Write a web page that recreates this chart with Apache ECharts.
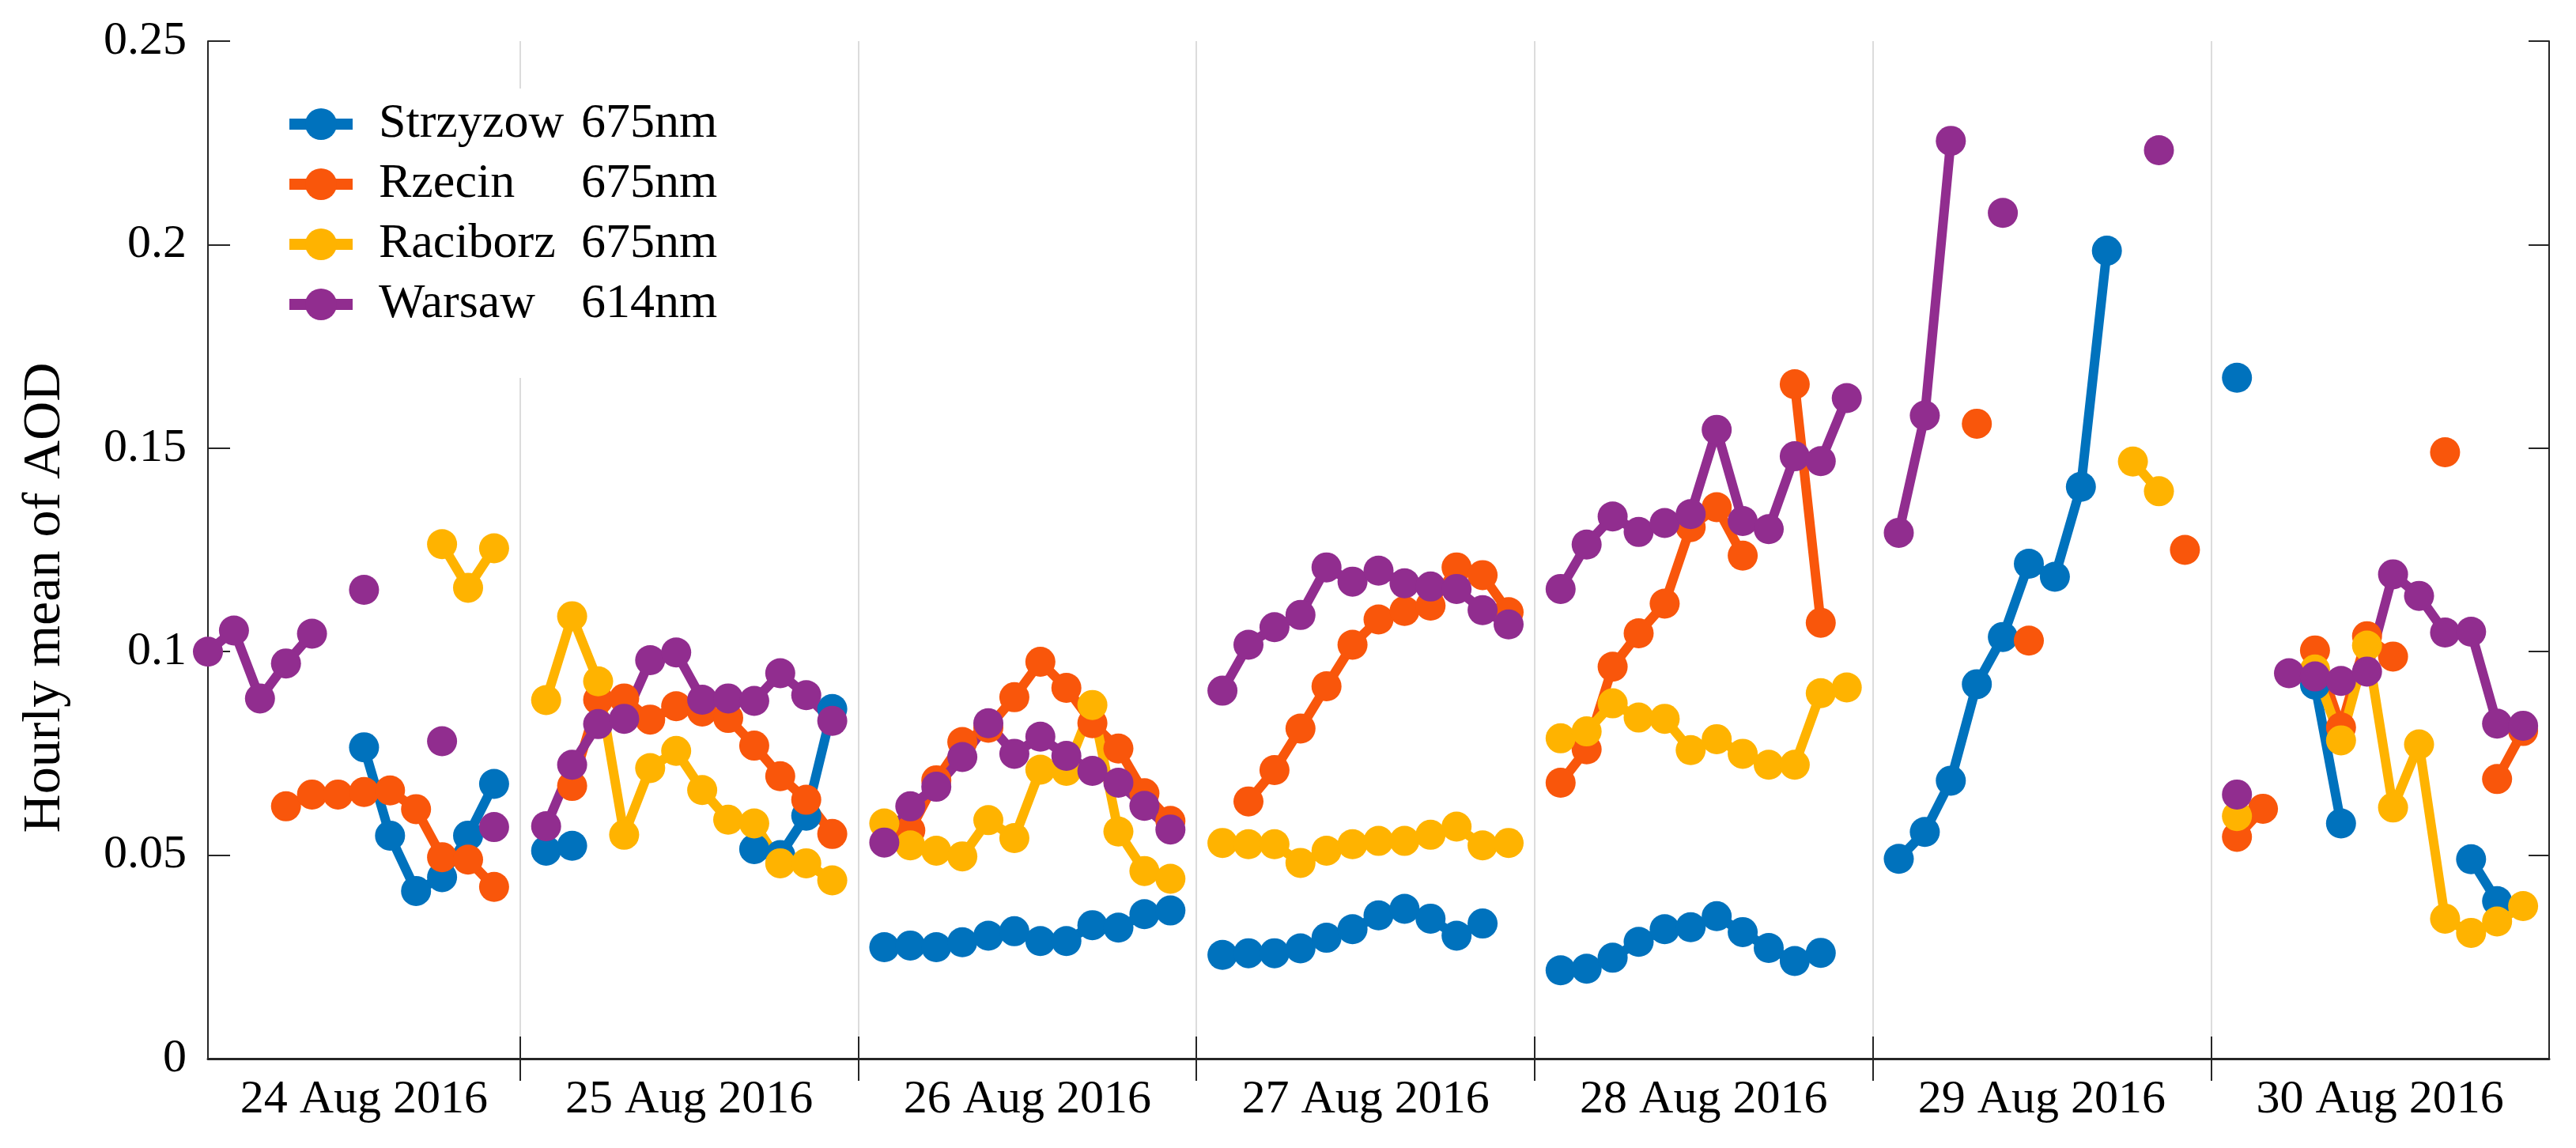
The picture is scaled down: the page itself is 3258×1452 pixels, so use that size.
<!DOCTYPE html>
<html>
<head>
    <meta charset="utf-8"/>
    <title>Hourly mean of AOD</title>
    <script src="https://cdn.jsdelivr.net/npm/echarts@6/dist/echarts.min.js"></script>
    <style type="text/css">
        html, body { margin: 0; padding: 0; background: #fff; }
        #main { width: 3258px; height: 1452px; }
    </style>
</head>
<body>
<div id="main"></div>
<script type="text/javascript">
    // one row per day (24..30 Aug), 12 hourly slots per day, null = no data
    var dayLabels = ['24 Aug 2016', '25 Aug 2016', '26 Aug 2016', '27 Aug 2016', '28 Aug 2016', '29 Aug 2016', '30 Aug 2016'];
    var labelPos = [7, 19.5, 32.5, 45.5, 58.5, 71.5, 84.5];
    var dayBounds = [13, 26, 39, 52, 65, 78];
    var yTicks = [0, 0.05, 0.1, 0.15, 0.2, 0.25];

    var stations = ['Strzyzow', 'Rzecin', 'Raciborz', 'Warsaw'];
    var wavelengths = ['675nm', '675nm', '675nm', '614nm'];
    var colors = ['#0072BD', '#F9560B', '#FFB300', '#912D8F'];

    var strzyzow = [
        [null, null, null, null, null, null, 0.0765, 0.0548, 0.0412, 0.0446, 0.0548, 0.0675],
        [0.0511, 0.0523, null, null, null, null, null, null, 0.0515, 0.0500, 0.0597, 0.0859],
        [0.0274, 0.0278, 0.0274, 0.0286, 0.0302, 0.0313, 0.0289, 0.0289, 0.0328, 0.0322, 0.0355, 0.0364],
        [0.0255, 0.0259, 0.0259, 0.0271, 0.0297, 0.0318, 0.0352, 0.0368, 0.0344, 0.0302, 0.0332, null],
        [0.0217, 0.0221, 0.0248, 0.0287, 0.0318, 0.0323, 0.0350, 0.0311, 0.0272, 0.0240, 0.0260, null],
        [0.0491, 0.0557, 0.0683, 0.0920, 0.1036, 0.1216, 0.1184, 0.1405, 0.1985, null, null, null],
        [0.1673, null, null, 0.0919, 0.0578, null, null, null, null, 0.0490, 0.0387, null]
    ];
    var rzecin = [
        [null, null, null, 0.0620, 0.0649, 0.0649, 0.0655, 0.0659, 0.0613, 0.0495, 0.0489, 0.0422],
        [null, 0.0670, 0.0882, 0.0885, 0.0833, 0.0866, 0.0853, 0.0837, 0.0769, 0.0694, 0.0636, 0.0552],
        [null, 0.0561, 0.0684, 0.0778, 0.0813, 0.0888, 0.0975, 0.0911, 0.0824, 0.0762, 0.0652, 0.0584],
        [null, 0.0632, 0.0709, 0.0811, 0.0915, 0.1017, 0.1079, 0.1100, 0.1113, 0.1207, 0.1188, 0.1097],
        [0.0678, 0.0760, 0.0963, 0.1045, 0.1118, 0.1306, 0.1355, 0.1236, null, 0.1657, 0.1071, null],
        [null, null, null, 0.1560, null, 0.1027, null, null, null, null, null, 0.1250],
        [0.0545, 0.0614, null, 0.1003, 0.0814, 0.1038, 0.0988, null, 0.1490, null, 0.0687, 0.0805]
    ];
    var raciborz = [
        [null, null, null, null, null, null, null, null, null, 0.1264, 0.1157, 0.1254],
        [0.0881, 0.1087, 0.0927, 0.0550, 0.0714, 0.0756, 0.0660, 0.0587, 0.0578, 0.0480, 0.0480, 0.0438],
        [0.0578, 0.0524, 0.0511, 0.0497, 0.0586, 0.0542, 0.0710, 0.0707, 0.0869, 0.0558, 0.0461, 0.0442],
        [0.0530, 0.0527, 0.0527, 0.0481, 0.0511, 0.0527, 0.0535, 0.0535, 0.0550, 0.0570, 0.0524, 0.0530],
        [0.0787, 0.0804, 0.0873, 0.0838, 0.0835, 0.0758, 0.0785, 0.0749, 0.0722, 0.0722, 0.0898, 0.0912],
        [null, null, null, null, null, null, null, null, null, 0.1467, 0.1394, null],
        [0.0596, null, null, 0.0956, 0.0782, 0.1015, 0.0617, 0.0772, 0.0344, 0.0309, 0.0337, 0.0375]
    ];
    var warsaw = [
        [0.1000, 0.1052, 0.0885, 0.0971, 0.1044, null, 0.1152, null, null, 0.0780, null, 0.0569],
        [0.0571, 0.0722, 0.0822, 0.0835, 0.0979, 0.0998, 0.0882, 0.0885, 0.0879, 0.0947, 0.0893, 0.0830],
        [0.0531, 0.0620, 0.0668, 0.0741, 0.0824, 0.0749, 0.0791, 0.0744, 0.0707, 0.0678, 0.0621, 0.0563],
        [0.0904, 0.1017, 0.1060, 0.1090, 0.1207, 0.1172, 0.1199, 0.1168, 0.1160, 0.1154, 0.1102, 0.1067],
        [0.1154, 0.1263, 0.1332, 0.1294, 0.1316, 0.1338, 0.1545, 0.1321, 0.1301, 0.1480, 0.1468, 0.1623],
        [0.1292, 0.1580, 0.2255, null, 0.2078, null, null, null, null, null, 0.2232, null],
        [0.0649, null, 0.0947, 0.0939, 0.0928, 0.0951, 0.1190, 0.1137, 0.1047, 0.1049, 0.0823, 0.0818]
    ];

    // x = day * 13 + slot, slot 13 is the night gap
    function toPoints(days) {
        var pts = [];
        for (var d = 0; d < days.length; d++) {
            for (var s = 0; s < days[d].length; s++) {
                var v = days[d][s];
                pts.push([d * 13 + s + 1, v == null ? '-' : v]);
            }
            pts.push([d * 13 + 13, '-']);
        }
        return pts;
    }

    var font = '"Liberation Serif", "Times New Roman", Tinos, "DejaVu Serif", serif';
    var allData = [strzyzow, rzecin, raciborz, warsaw];

    var series = [];
    for (var i = 0; i < stations.length; i++) {
        series.push({
            name: stations[i],
            type: 'line',
            data: toPoints(allData[i]),
            connectNulls: false,
            symbol: 'circle',
            symbolSize: 38,
            showSymbol: true,
            color: colors[i],
            lineStyle: { width: 12, color: colors[i] },
            itemStyle: { color: colors[i] },
            emphasis: { disabled: true },
            animation: false
        });
    }

    var frame = { show: true, lineStyle: { color: '#262626', width: 2 } };

    var myChart = echarts.init(document.getElementById('main'));
    var option = {
        backgroundColor: '#fff',
        animation: false,
        grid: { left: 263, top: 52, right: 34, bottom: 113 },
        graphic: [{
            type: 'text',
            x: 57,
            y: 756,
            rotation: Math.PI / 2,
            style: {
                text: 'Hourly mean of AOD',
                font: '68px ' + font,
                fill: '#000',
                textAlign: 'center',
                textVerticalAlign: 'middle'
            }
        }],
        legend: {
            orient: 'vertical',
            left: 299,
            top: 112,
            padding: [14, 40, 62, 60],
            backgroundColor: '#fff',
            itemWidth: 80,
            itemHeight: 50,
            itemGap: 14,
            data: stations,
            lineStyle: { width: 14 },
            formatter: function (name) {
                return '{a|' + name + '}{b|' + wavelengths[stations.indexOf(name)] + '}';
            },
            textStyle: {
                fontFamily: font,
                fontSize: 62,
                color: '#000',
                rich: {
                    a: { fontFamily: font, fontSize: 62, color: '#000', width: 256, padding: [0, 0, 0, 28] },
                    b: { fontFamily: font, fontSize: 62, color: '#000' }
                }
            }
        },
        xAxis: [{
            type: 'value',
            min: 1,
            max: 91,
            position: 'bottom',
            axisLine: { show: true, lineStyle: { color: '#262626', width: 3 } },
            axisTick: { show: true, inside: true, length: 28, customValues: dayBounds, lineStyle: { color: '#262626', width: 2 } },
            splitLine: { show: true, lineStyle: { color: '#dcdcdc', width: 2 } },
            axisLabel: {
                customValues: labelPos,
                margin: 22,
                fontFamily: font,
                fontSize: 60,
                color: '#000',
                formatter: function (v) { return dayLabels[labelPos.indexOf(v)]; }
            }
        }, {
            type: 'value',
            min: 1,
            max: 91,
            position: 'top',
            axisLine: frame,
            axisTick: { show: true, inside: true, length: 28, customValues: dayBounds, lineStyle: { color: '#262626', width: 2 } },
            splitLine: { show: false },
            axisLabel: { show: false }
        }],
        yAxis: [{
            type: 'value',
            min: 0,
            max: 0.25,
            interval: 0.05,
            position: 'left',
            axisLine: frame,
            axisTick: { show: true, inside: true, length: 28, lineStyle: { color: '#262626', width: 2 } },
            splitLine: { show: false },
            axisLabel: {
                margin: 27,
                fontFamily: font,
                fontSize: 60,
                color: '#000',
                formatter: function (v) { return String(+v.toFixed(2)); }
            }
        }, {
            type: 'value',
            min: 0,
            max: 0.25,
            interval: 0.05,
            position: 'right',
            axisLine: frame,
            axisTick: { show: true, inside: true, length: 26, lineStyle: { color: '#262626', width: 2 } },
            splitLine: { show: false },
            axisLabel: { show: false }
        }],
        series: series
    };
    myChart.setOption(option);
</script>
</body>
</html>
